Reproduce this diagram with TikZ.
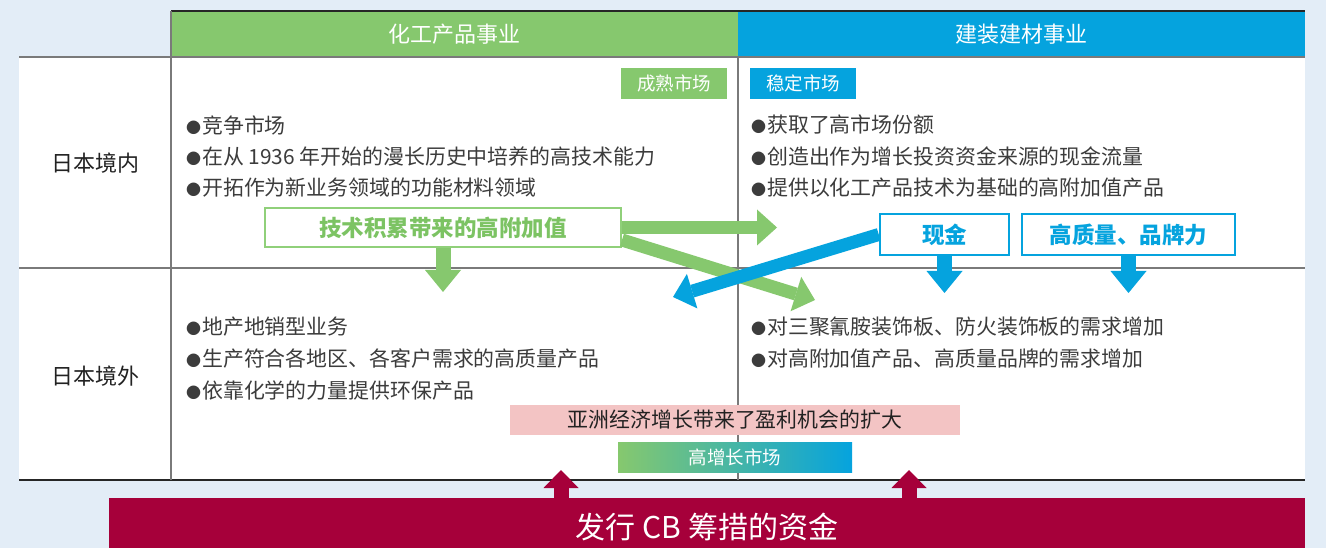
\documentclass[tikz,border=0pt]{standalone}
\usepackage{fontspec}
\setmainfont{Noto Sans CJK SC}
\usetikzlibrary{positioning,arrows.meta}

\definecolor{pagebg}{HTML}{E3EDF7}
\definecolor{chemgreen}{HTML}{86C86E}
\definecolor{buildblue}{HTML}{05A3DE}
\definecolor{boxgreen}{HTML}{90D07A}
\definecolor{txtgreen}{HTML}{7CC363}
\definecolor{asiapink}{HTML}{F3C4C4}
\definecolor{cbred}{HTML}{A6003A}
\definecolor{gridgray}{HTML}{7A7A7A}
\definecolor{bodytext}{HTML}{3C3C3C}
\definecolor{labeltext}{HTML}{222222}

\newcommand\headfont{\fontsize{22}{26}\selectfont}
\newcommand\rowfont{\fontsize{22}{26}\selectfont}
\newcommand\tagfont{\fontsize{18.5}{22}\selectfont}
\newcommand\itemfont{\fontsize{20.9}{24}\selectfont}
\newcommand\boxfont{\fontsize{22.5}{26}\selectfont\bfseries}
\newcommand\bandfont{\fontsize{30}{34}\selectfont}
\newcommand\bul{{\fontsize{15}{15}\selectfont ●}\kern1pt}

\begin{document}
\begin{tikzpicture}[x=1pt, y=-1pt, node distance=31.5pt, on grid,
  head/.style={minimum width=567pt, minimum height=46pt, inner sep=0pt, text=white, font=\headfont},
  rowlab/.style={font=\rowfont, text=labeltext},
  tag/.style={minimum width=106pt, minimum height=31pt, inner sep=0pt, text=white, font=\tagfont},
  item/.style={anchor=west, inner sep=0pt, font=\itemfont, text=bodytext},
  gainbox/.style={draw=boxgreen, line width=2pt, fill=white, text=txtgreen, font=\boxfont, minimum width=356pt, minimum height=39pt, inner sep=0pt},
  cashbox/.style={draw=buildblue, line width=2.5pt, fill=white, text=buildblue, font=\boxfont, minimum height=41pt, inner sep=0pt},
  bar/.style={minimum height=30pt, inner sep=0pt},
  gridline/.style={gridgray, line width=1.5pt},
  darkline/.style={black!85, line width=1.5pt},
  fatgreen/.style={chemgreen, line width=13pt, -{Triangle[length=20pt, width=36pt, line width=0pt]}},
  fatblue/.style={buildblue, line width=13pt, -{Triangle[length=20pt, width=36pt, line width=0pt]}},
  downarrow/.style={line width=15pt, -{Triangle[length=22pt, width=36pt, line width=0pt]}},
  uparrow/.style={cbred, line width=15pt, -{Triangle[length=18pt, width=35pt, line width=0pt]}}]

\clip (0,0) rectangle (1326,548);
\fill[pagebg] (0,0) rectangle (1326,548);
\fill[white] (19,57) rectangle (1305,480);

% column headers
\node[head, fill=chemgreen] (chem) at (454.5,34) {化工产品事业};
\node[head, fill=buildblue] (build) at (1021.5,34) {建装建材事业};

% grid
\draw[darkline] (171,11) -- (1305,11);
\draw[gridline] (19,57) -- (1305,57);
\draw[gridline] (19,268) -- (1305,268);
\draw[darkline] (19,480) -- (1305,480);
\draw[gridline] (171,11) -- (171,480);
\draw[gridline] (738,57) -- (738,480);

\node[rowlab] (inside) at (95,163) {日本境内};
\node[rowlab] (outside) at (95,376) {日本境外};

\node[tag, fill=chemgreen] (mature) at (674,83.5) {成熟市场};
\node[tag, fill=buildblue] (stable) at (803,83.5) {稳定市场};

% upper row
\node[item] (c1) at (186,125) {\bul 竞争市场};
\node[item, below=of c1.west, anchor=west] (c2) {\bul 在从 1936 年开始的漫长历史中培养的高技术能力};
\node[item, below=of c2.west, anchor=west] (c3) {\bul 开拓作为新业务领域的功能材料领域};
\node[item] (b1) at (751,125) {\bul 获取了高市场份额};
\node[item, below=of b1.west, anchor=west] (b2) {\bul 创造出作为增长投资资金来源的现金流量};
\node[item, below=of b2.west, anchor=west] (b3) {\bul 提供以化工产品技术为基础的高附加值产品};

% lower row
\node[item] (d1) at (186,327) {\bul 地产地销型业务};
\node[item, below=32pt of d1.west, anchor=west] (d2) {\bul 生产符合各地区、各客户需求的高质量产品};
\node[item, below=32pt of d2.west, anchor=west] (d3) {\bul 依靠化学的力量提供环保产品};
\node[item] (e1) at (751,327) {\bul 对三聚氰胺装饰板、防火装饰板的需求增加};
\node[item, below=32pt of e1.west, anchor=west] (e2) {\bul 对高附加值产品、高质量品牌的需求增加};

\node[bar, fill=asiapink, minimum width=450pt, text=labeltext, font=\itemfont] (asia) at (735,420) {亚洲经济增长带来了盈利机会的扩大};
\node[bar, shading=axis, left color=chemgreen, right color=buildblue, minimum width=234pt, text=white, font=\tagfont] (growth) at (735,457) {高增长市场};

% value flows
\node[gainbox] (tech) at (443,227.5) {技术积累带来的高附加值};
\node[cashbox, minimum width=129pt] (cash) at (944.5,234.5) {现金};
\node[cashbox, minimum width=213pt] (brand) at (1128.5,234.5) {高质量、品牌力};

\coordinate (techR) at (777,227.5);
\coordinate (techD) at (443,292);
\coordinate (techX) at (815,300);
\coordinate (cashX) at (673,297);
\coordinate (cashD) at (944.5,293);
\coordinate (brandD) at (1128.5,293);

\draw[fatgreen] (tech.east) -- (techR);
\draw[downarrow, chemgreen] (tech.south) -- (techD);
\draw[fatgreen] (tech.-4) -- (techX);
\draw[fatblue] (cash.west) -- (cashX);
\draw[downarrow, buildblue] (cash.south) -- (cashD);
\draw[downarrow, buildblue] (brand.south) -- (brandD);

% funding
\node[fill=cbred, minimum width=1196pt, minimum height=58pt, inner sep=0pt, text=white, font=\bandfont] (cb) at (707,527) {发行 CB 筹措的资金};
\coordinate (cbA) at (561,470);
\coordinate (cbB) at (909,470);
\draw[uparrow] (cbA |- cb.north) -- (cbA);
\draw[uparrow] (cbB |- cb.north) -- (cbB);
\end{tikzpicture}
\end{document}
